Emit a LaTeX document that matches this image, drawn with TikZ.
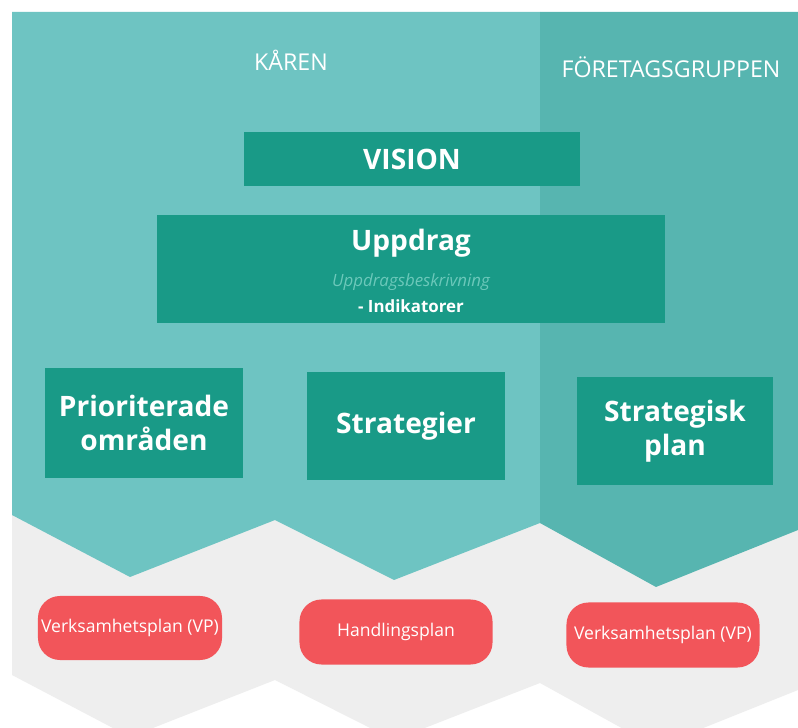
\documentclass[tikz,border=0pt]{standalone}
\usepackage{fontspec}
\setmainfont{Open Sans}
\definecolor{karteal}{HTML}{6EC4C2}
\definecolor{foreteal}{HTML}{57B5B0}
\definecolor{boxteal}{HTML}{199A87}
\definecolor{planred}{HTML}{F2555A}
\definecolor{skugga}{HTML}{EEEEEE}
\definecolor{svagtext}{HTML}{6CC8BA}
\begin{document}
\begin{tikzpicture}[
    x=0.025cm, y=-0.025cm,
    ruta/.style={fill=boxteal, text=white, align=center, inner sep=0pt, font=\fontsize{20pt}{24pt}\selectfont\bfseries},
    plan/.style={fill=planred, text=white, rounded corners=0.55cm, inner sep=0pt, font=\fontsize{12.5pt}{14pt}\selectfont},
    rubrik/.style={text=white, font=\fontsize{16.5pt}{19pt}\selectfont}
]
    \useasboundingbox (0,0) rectangle (798,728);
    \fill[white] (0,0) rectangle (798,728);

    % --- SKUGGA UNDER PILARNA ---
    \fill[skugga] (12,300) -- (798,300) -- (798,690) -- (656,747) -- (540,683)
        -- (394,740) -- (275,680) -- (130,737) -- (12,675) -- cycle;

    % --- BAKGRUND: KÅREN ---
    \fill[karteal] (12,12) -- (540,12) -- (540,523) -- (394,580) -- (275,520)
        -- (130,577) -- (12,515) -- cycle;

    % --- BAKGRUND: FÖRETAGSGRUPPEN ---
    \fill[foreteal] (540,12) -- (798,12) -- (798,530) -- (656,587) -- (540,523) -- cycle;

    % --- RUBRIKER ---
    \node[rubrik] (karen) at (291,60) {KÅREN};
    \node[rubrik] (foretag) at (671,67) {FÖRETAGSGRUPPEN};

    % --- VISION OCH UPPDRAG ---
    \node[ruta, minimum width=8.375cm, minimum height=1.325cm] (vision) at (412,159) {VISION};
    \node[ruta, minimum width=12.7cm, minimum height=2.7cm] (uppdrag) at (411,269) {};
    \node[text=white, font=\fontsize{20pt}{24pt}\selectfont\bfseries] (uppdragtitel) at (411,243) {Uppdrag};
    \node[text=svagtext, font=\fontsize{12pt}{14pt}\selectfont\itshape] (beskrivning) at (411,282) {Uppdragsbeskrivning};
    \node[text=white, font=\fontsize{12pt}{14pt}\selectfont\bfseries] (indikatorer) at (411,306) {- Indikatorer};

    % --- TREDJE NIVÅN ---
    \node[ruta, minimum width=4.95cm, minimum height=2.75cm] (prio) at (144,423) {Prioriterade\\områden};
    \node[ruta, minimum width=4.925cm, minimum height=2.7cm] (strategier) at (406,426) {Strategier};
    \node[ruta, minimum width=4.9cm, minimum height=2.7cm] (splan) at (675,431) {Strategisk\\plan};

    % --- PLANER ---
    \node[plan, minimum width=4.6cm, minimum height=1.6cm] (vp1) at (130,628) {Verksamhetsplan (VP)};
    \node[plan, minimum width=4.825cm, minimum height=1.625cm] (hplan) at (396,632) {Handlingsplan};
    \node[plan, minimum width=4.825cm, minimum height=1.625cm] (vp2) at (663,635) {Verksamhetsplan (VP)};
\end{tikzpicture}
\end{document}
